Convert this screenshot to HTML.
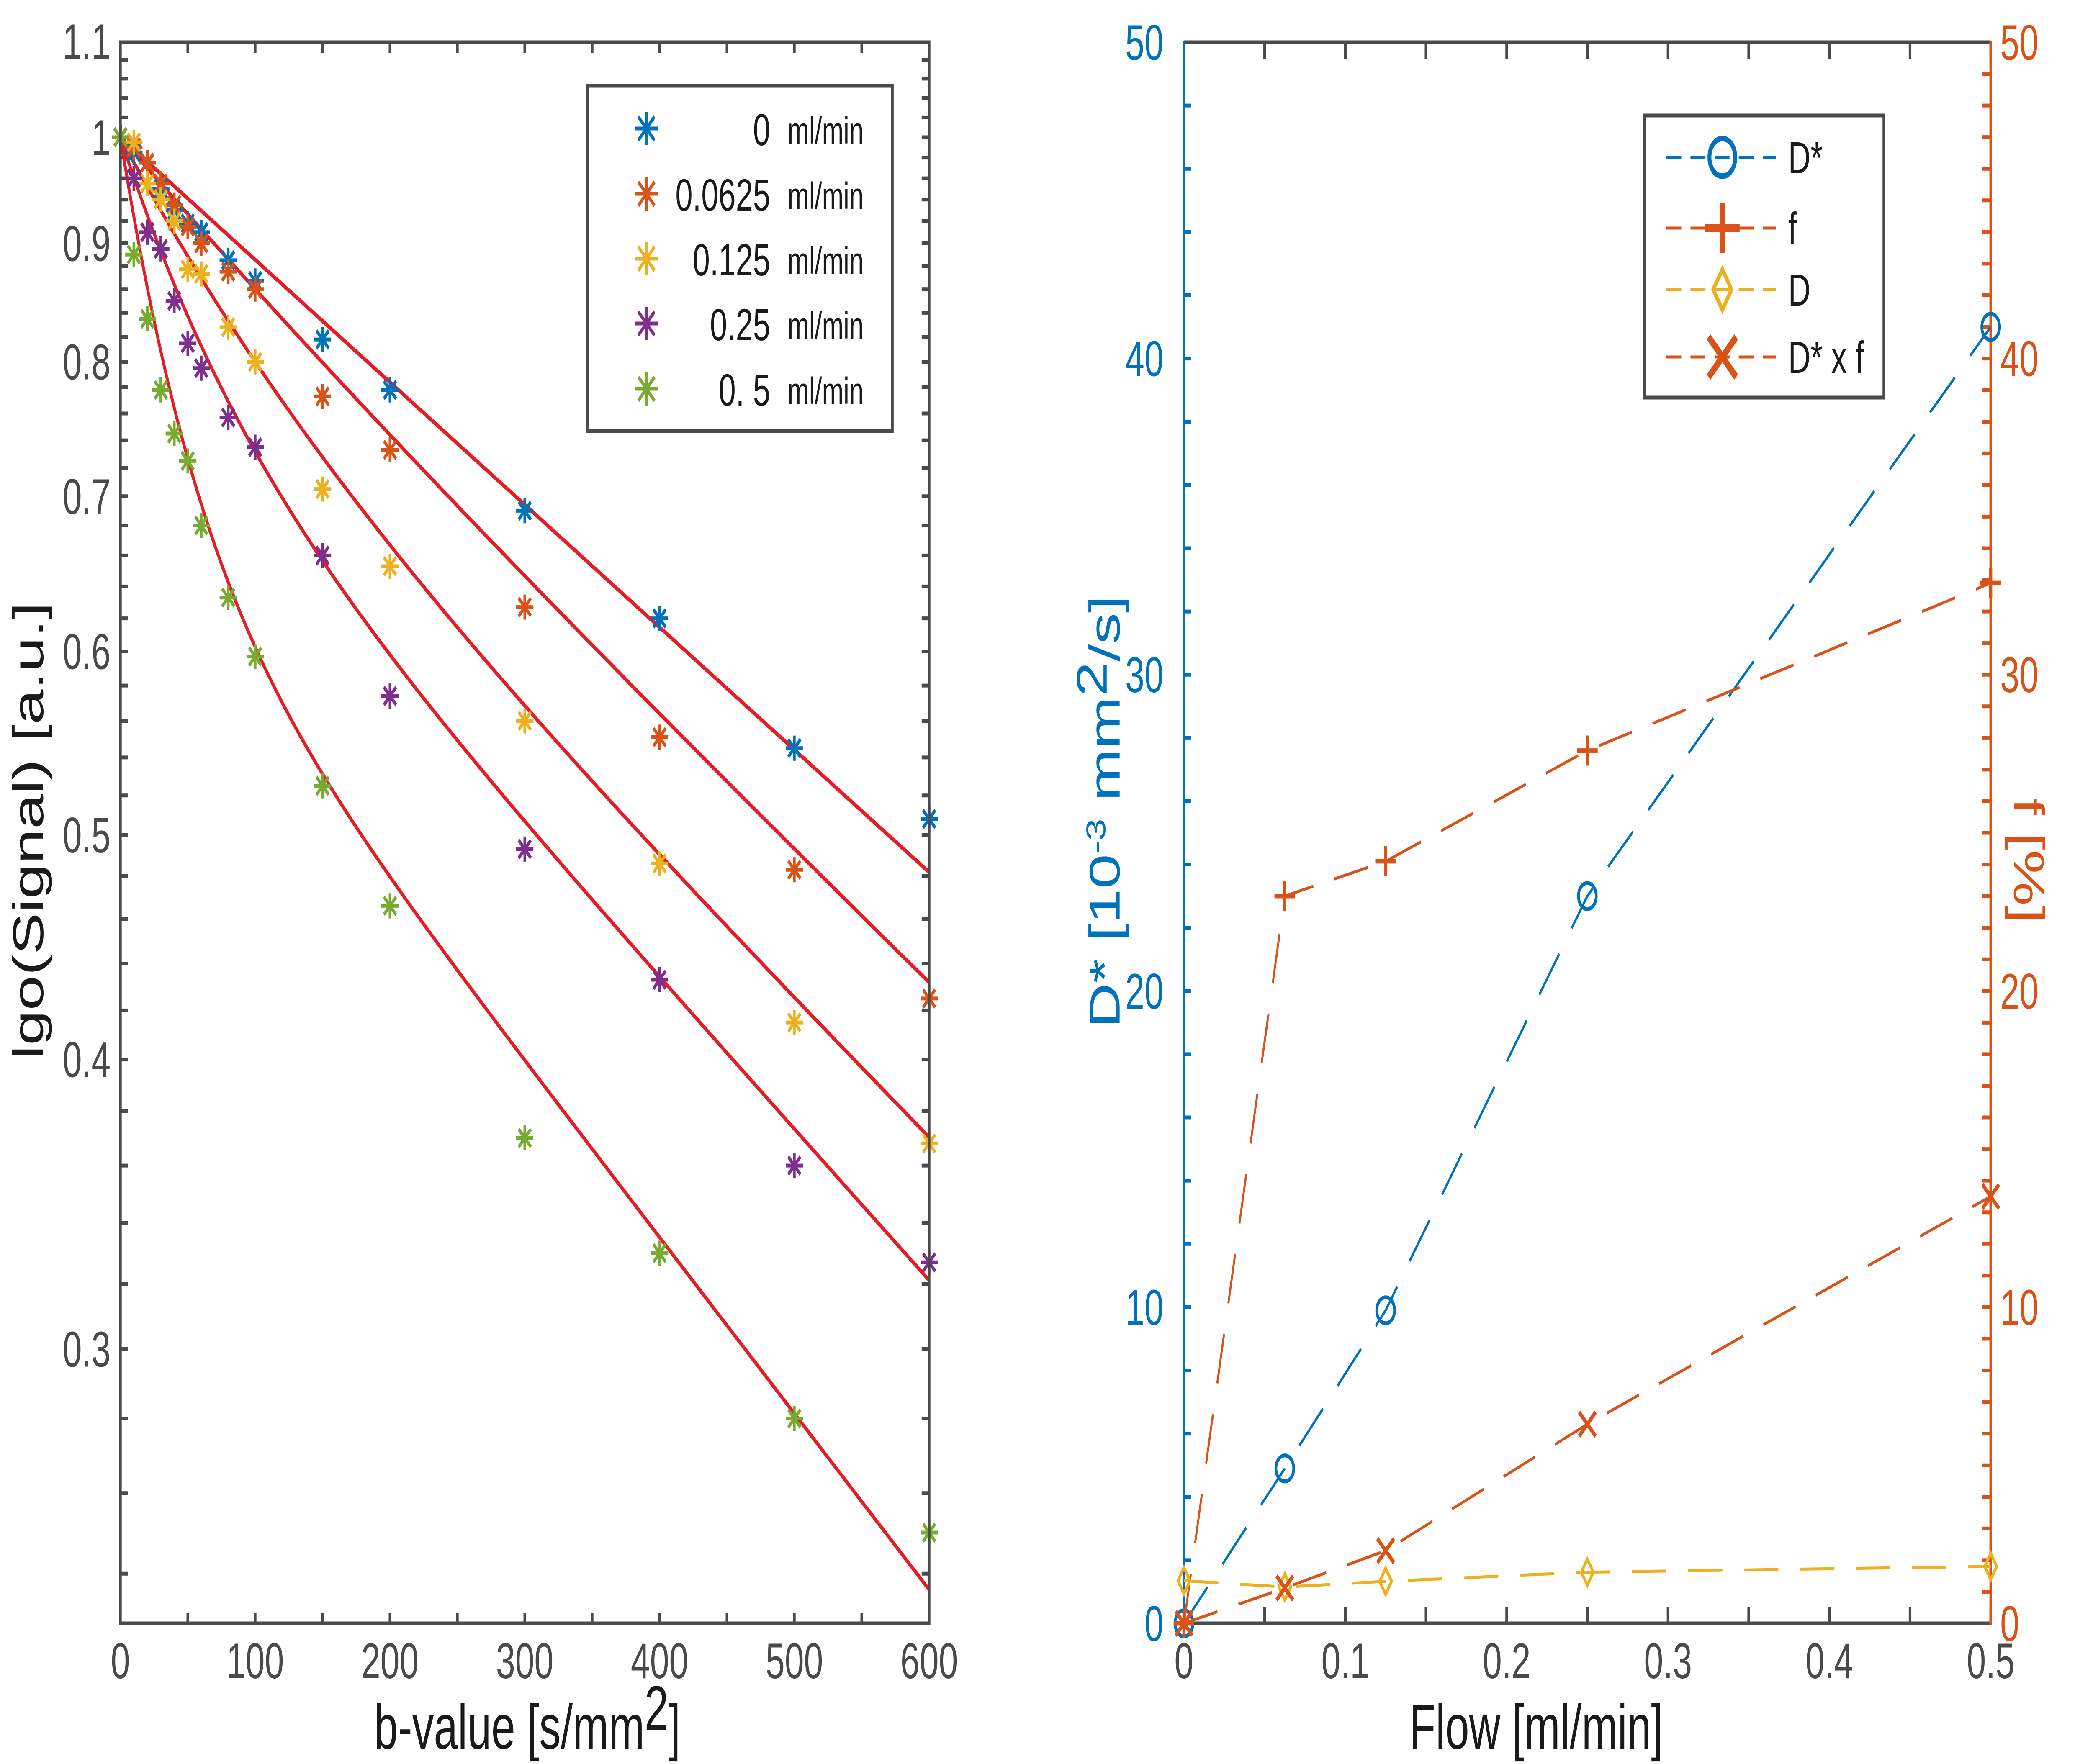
<!DOCTYPE html>
<html><head><meta charset="utf-8">
<style>
html,body{margin:0;padding:0;background:#fff;overflow:hidden;width:100%;height:100%;}
svg{display:block;font-family:"Liberation Sans",sans-serif;width:100vw;height:100vh;}
</style></head>
<body>
<svg id="fig" viewBox="0 0 7285 4215" preserveAspectRatio="none" xmlns="http://www.w3.org/2000/svg">
<rect x="0" y="0" width="7285" height="4215" fill="#fff"/>
<g id="left"></g>
<g id="right"></g>
</svg>
<script>
// ---------- Left chart data ----------
const bValues = [0,10,20,30,40,50,60,80,100,150,200,300,400,500,600];
const flowLabels = ["0","0.0625","0.125","0.25","0. 5"];
const sig0 = [1,0.985,0.975,0.95,0.93,0.918,0.91,0.885,0.867,0.818,0.778,0.69,0.62,0.545,0.508];
const sig1 = [1,0.99,0.975,0.955,0.935,0.915,0.9,0.875,0.86,0.773,0.733,0.627,0.551,0.483,0.425];
const sig2 = [1,0.995,0.955,0.94,0.92,0.877,0.873,0.828,0.8,0.705,0.653,0.56,0.486,0.415,0.368];
const sig3 = [1,0.96,0.91,0.895,0.85,0.815,0.795,0.757,0.735,0.66,0.574,0.493,0.433,0.36,0.327];
const sig4 = [1,0.89,0.835,0.778,0.745,0.725,0.68,0.633,0.597,0.525,0.466,0.37,0.33,0.28,0.25];
const fitF = [0,0.08,0.165,0.21,0.325];
const fitDstar = [0,0.0046,0.0084,0.014,0.022];
const fitD = [0.001217,0.00128,0.00136,0.0015,0.00175];
const leftYTicks = [0.3,0.4,0.5,0.6,0.7,0.8,0.9,1,1.1];
const leftYTickLabels = ["0.3","0.4","0.5","0.6","0.7","0.8","0.9","1","1.1"];
const leftXTicks = [0,100,200,300,400,500,600];

// ---------- Right chart data ----------
const flows = [0,0.0625,0.125,0.25,0.5];
const dStar = [0,4.9,9.9,23,41];
const fPct = [0,23,24.1,27.6,32.9];
const dVal = [1.35,1.15,1.33,1.62,1.8];
const dStarF = [0,1.12,2.3,6.3,13.5];
const rightXTicks = [0,0.1,0.2,0.3,0.4,0.5];
const rightYTicks = [0,10,20,30,40,50];

const NS="http://www.w3.org/2000/svg";
function mk(tag,attrs,parent){const e=document.createElementNS(NS,tag);for(const k in attrs)e.setAttribute(k,attrs[k]);parent.appendChild(e);return e;}
const AX="#4a4a4a", BLUE="#0072BD", ORANGE="#D95319", YEL="#EDB120", PUR="#7E2F8E", GRN="#77AC30", RED="#E41E26";
const serCols=[BLUE,ORANGE,YEL,PUR,GRN];
const series=[sig0,sig1,sig2,sig3,sig4];

// ===== LEFT =====
const L=document.getElementById('left');
const lx0=419,lx1=3234,ly0=101,ly1=3879;
const bMin=0,bMax=600;
const yK=2405, yRef=328;
function sx(b){return lx0+(b-bMin)/(bMax-bMin)*(lx1-lx0);}
function sy(v){return yRef-yK*Math.log(v);}

function asterisk(g,cx,cy,r,col,sw,name){
  const a=mk('g',{},g);
  
  
  const d=r*0.7071;
  mk('line',{x1:cx-r,y1:cy,x2:cx+r,y2:cy,stroke:col,'stroke-width':sw},a);
  mk('line',{x1:cx,y1:cy-r,x2:cx,y2:cy+r,stroke:col,'stroke-width':sw},a);
  mk('line',{x1:cx-d,y1:cy-d,x2:cx+d,y2:cy+d,stroke:col,'stroke-width':sw},a);
  mk('line',{x1:cx-d,y1:cy+d,x2:cx+d,y2:cy-d,stroke:col,'stroke-width':sw},a);
  return a;
}
const lt=mk('g',{},L);


for(let v=0.24;v<1.099;v+=0.02){const y=sy(v);
  mk('line',{x1:lx0,y1:y,x2:lx0+26,y2:y,stroke:AX,'stroke-width':9},lt);
  mk('line',{x1:lx1-26,y1:y,x2:lx1,y2:y,stroke:AX,'stroke-width':9},lt);}
for(let b=50;b<600;b+=50){const x=sx(b);
  mk('line',{x1:x,y1:ly1,x2:x,y2:ly1-26,stroke:AX,'stroke-width':9},lt);
  mk('line',{x1:x,y1:ly0,x2:x,y2:ly0+26,stroke:AX,'stroke-width':9},lt);}
leftYTicks.forEach((v,i)=>{const t=mk('text',{x:385,y:sy(v)+42,'text-anchor':'end','font-size':120,fill:AX},L);
  t.textContent=leftYTickLabels[i];
  
  });
leftXTicks.forEach(b=>{const t=mk('text',{x:sx(b),y:4010,'text-anchor':'middle','font-size':120,fill:AX},L);
  t.textContent=String(b);
  
  });
const fits=mk('g',{},L);


for(let s=0;s<5;s++){let p='';
  for(let b=0;b<=600;b+=3){const v=fitF[s]*Math.exp(-b*fitDstar[s])+(1-fitF[s])*Math.exp(-b*fitD[s]);
    p+=(b?'L':'M')+sx(b).toFixed(1)+','+sy(v).toFixed(1);}
  const c=mk('path',{d:p,fill:'none',stroke:RED,'stroke-width':10},fits);
  
  }
for(let s=0;s<5;s++){const g=mk('g',{},L);
  
  
  series[s].forEach((v,i)=>asterisk(g,sx(bValues[i]),sy(v),30,serCols[s],9,'data-point'));}
const lb=mk('rect',{x:lx0,y:ly0,width:lx1-lx0,height:ly1-ly0,fill:'none',stroke:AX,'stroke-width':9},L);


const lg=mk('g',{},L);


mk('rect',{x:2044,y:205,width:1062,height:825,fill:'#fff',stroke:AX,'stroke-width':9},lg);
const lrows=[307,463,618,773,929];
for(let s=0;s<5;s++){asterisk(lg,2250,lrows[s],40,serCols[s],9,'legend-marker');
  const t=mk('text',{x:2681,y:lrows[s]+40,'text-anchor':'end','font-size':108,fill:'#1a1a1a'},lg);
  t.textContent=flowLabels[s];
  
  
  const u=mk('text',{x:2741,y:lrows[s]+36,'font-size':90,fill:'#1a1a1a'},lg);
  u.textContent='ml/min';
  
  }
const xt=mk('text',{x:1835,y:4178,'text-anchor':'middle','font-size':150,fill:'#1a1a1a'},L);
xt.innerHTML='b-value [s/mm<tspan dy="-45">2</tspan><tspan dy="45">]</tspan>';


const yt=mk('text',{x:0,y:0,'text-anchor':'middle','font-size':150,fill:'#1a1a1a',transform:'translate(150,1985) rotate(-90)'},L);
yt.textContent='lgo(Signal) [a.u.]';



// ===== RIGHT =====
const R=document.getElementById('right');
const rx0=4121,rx1=6929,ry0=101,ry1=3879;
function fx(v){return rx0+v/0.5*(rx1-rx0);}
function fy(v){return ry1-v/50*(ry1-ry0);}
const rt=mk('g',{},R);


for(let v=0.05;v<0.5;v+=0.05){const x=fx(v);
  mk('line',{x1:x,y1:ry1,x2:x,y2:ry1-40,stroke:AX,'stroke-width':9},rt);
  mk('line',{x1:x,y1:ry0,x2:x,y2:ry0+40,stroke:AX,'stroke-width':9},rt);}
for(let v=2;v<50;v+=2){const y=fy(v);mk('line',{x1:rx0,y1:y,x2:rx0+25,y2:y,stroke:BLUE,'stroke-width':9},rt);}
for(let v=1;v<50;v++){const y=fy(v);mk('line',{x1:rx1-30,y1:y,x2:rx1,y2:y,stroke:ORANGE,'stroke-width':9},rt);}
mk('line',{x1:rx0,y1:ry0,x2:rx1,y2:ry0,stroke:AX,'stroke-width':9},rt);
mk('line',{x1:rx0,y1:ry1,x2:rx1,y2:ry1,stroke:AX,'stroke-width':9},rt);
mk('line',{x1:rx0,y1:ry0-4,x2:rx0,y2:ry1+4,stroke:BLUE,'stroke-width':9},rt);
mk('line',{x1:rx1,y1:ry0-4,x2:rx1,y2:ry1+4,stroke:ORANGE,'stroke-width':9},rt);
rightXTicks.forEach(v=>{const t=mk('text',{x:fx(v),y:4010,'text-anchor':'middle','font-size':120,fill:AX},R);
  t.textContent=String(v);
  
  });
rightYTicks.forEach(v=>{const t=mk('text',{x:4050,y:fy(v)+42,'text-anchor':'end','font-size':120,fill:BLUE},R);
  t.textContent=String(v);
  
  
  const u=mk('text',{x:6962,y:fy(v)+42,'text-anchor':'start','font-size':120,fill:ORANGE},R);
  u.textContent=String(v);
  
  });

function marker(g,type,cx,cy,col,s){
  const m=mk('g',{},g);
  
  
  if(type==='o')mk('circle',{cx:cx,cy:cy,r:s,fill:'none',stroke:col,'stroke-width':Math.max(9,s*0.3)},m);
  if(type==='+'){mk('line',{x1:cx-s,y1:cy,x2:cx+s,y2:cy,stroke:col,'stroke-width':Math.max(10,s*0.3)},m);mk('line',{x1:cx,y1:cy-s,x2:cx,y2:cy+s,stroke:col,'stroke-width':Math.max(10,s*0.3)},m);}
  if(type==='x'){const d=s*0.8;mk('line',{x1:cx-d,y1:cy-d,x2:cx+d,y2:cy+d,stroke:col,'stroke-width':Math.max(10,s*0.3)},m);mk('line',{x1:cx-d,y1:cy+d,x2:cx+d,y2:cy-d,stroke:col,'stroke-width':Math.max(10,s*0.3)},m);}
  if(type==='d'){mk('path',{d:`M${cx},${cy-s*1.2}L${cx+s*0.8},${cy}L${cx},${cy+s*1.2}L${cx-s*0.8},${cy}Z`,fill:'none',stroke:col,'stroke-width':Math.max(9,s*0.3)},m);}
}
const rseries=[[dStar,BLUE,'o','dstar'],[fPct,ORANGE,'+','f'],[dVal,YEL,'d','d'],[dStarF,ORANGE,'x','dstar-x-f']];
rseries.forEach(([vals,col,mt,nm])=>{
  const g=mk('g',{},R);
  
  
  let p='';vals.forEach((v,i)=>{p+=(i?'L':'M')+fx(flows[i]).toFixed(1)+','+fy(v).toFixed(1);});
  const ln=mk('path',{d:p,fill:'none',stroke:col,'stroke-width':7,'stroke-dasharray':'120,75'},g);
  
  
  const sz=mt==='d'?26:(mt==='o'?31:36);
  vals.forEach((v,i)=>marker(g,mt,fx(flows[i]),fy(v),col,sz));
});
const rg=mk('g',{},R);


mk('rect',{x:5723,y:276,width:834,height:674,fill:'#fff',stroke:AX,'stroke-width':9},rg);
const rrows=[376,545,692,853], rnames=['D*','f','D','D* x f'], rcols=[BLUE,ORANGE,YEL,ORANGE], rm=['o','+','d','x'];
for(let i=0;i<4;i++){
  mk('line',{x1:5800,y1:rrows[i],x2:6181,y2:rrows[i],stroke:rcols[i],'stroke-width':7,'stroke-dasharray':'52,32'},rg);
  marker(rg,rm[i],5995,rrows[i],rcols[i],rm[i]==='d'?40:(rm[i]==='o'?45:60));
  const t=mk('text',{x:6224,y:rrows[i]+38,'font-size':108,fill:'#1a1a1a'},rg);
  t.textContent=rnames[i];
  
  }
const rxt=mk('text',{x:5347,y:4178,'text-anchor':'middle','font-size':150,fill:'#1a1a1a'},R);
rxt.textContent='Flow [ml/min]';


const ryl=mk('text',{x:0,y:0,'text-anchor':'middle','font-size':150,fill:BLUE,transform:'translate(3897,1940) rotate(-90)'},R);
ryl.innerHTML='D* [10<tspan dy="-50" font-size="95">-3</tspan><tspan dy="50"> mm</tspan><tspan dy="-45">2</tspan><tspan dy="45">/s]</tspan>';


const ryr=mk('text',{x:0,y:0,'text-anchor':'middle','font-size':150,fill:ORANGE,transform:'translate(7010,2056) rotate(90)'},R);
ryr.textContent='f [%]';


</script>
</body></html>
